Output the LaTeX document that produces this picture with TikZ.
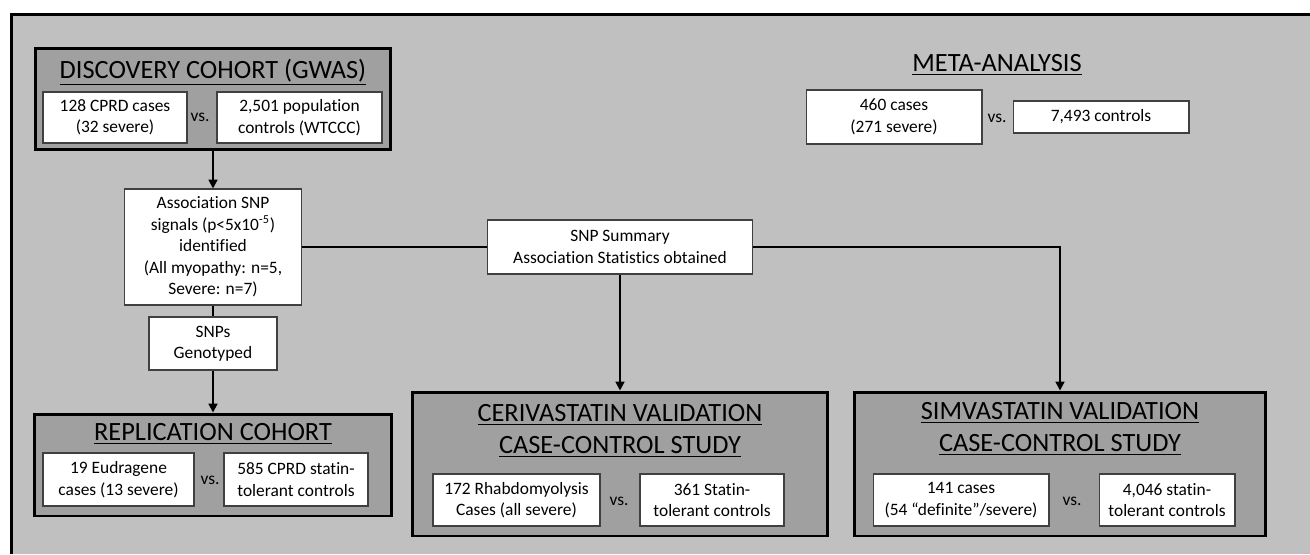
\documentclass[tikz,border=0pt]{standalone}
\usepackage{fontspec}
\setmainfont{Carlito}[Ligatures={TeX,NoCommon}]
\usetikzlibrary{arrows.meta}
\definecolor{bggray}{RGB}{192,192,192}
\definecolor{panelgray}{RGB}{160,160,160}
\begin{document}
\begin{tikzpicture}[x=0.02cm,y=-0.02cm,font=\fontsize{9.9}{12.2}\selectfont,
  panel/.style={draw,line width=1.7pt,fill=panelgray,inner sep=0pt},
  cell/.style={draw=black!75,line width=0.6pt,fill=white,align=center,inner sep=0pt},
  heading/.style={align=center,font=\fontsize{15}{18.3}\selectfont},
  link/.style={line width=1.1pt},
  flow/.style={link,-{Triangle[length=5pt,width=5pt]}}]
\useasboundingbox (0,0) rectangle (1310,554);
\fill[bggray] (11.5,14.5) rectangle (1310,554);
\draw[line width=1.7pt] (11.5,554) -- (11.5,14.5) -- (1310,14.5);
% discovery
\node[panel,minimum width=7.1cm,minimum height=2.04cm] (disc) at (213,99) {};
\node[heading] (discT) at (213,72) {\underline{DISCOVERY COHORT (GWAS)}};
\node[cell,minimum width=2.88cm,minimum height=1.02cm] (discA) at (115,117.5) {128 CPRD cases\\(32 severe)};
\node[cell,minimum width=3.3cm,minimum height=1.02cm] (discB) at (299.5,117.5) {2,501 population\\controls (WTCCC)};
% signals
\node[cell,minimum width=3.54cm,minimum height=2.32cm] (assoc) at (213,247) {Association SNP\\signals (p<5x10\textsuperscript{-5})\\identified\\(All myopathy: n=5,\\Severe: n=7)};
\node[cell,minimum width=2.56cm,minimum height=1.06cm] (geno) at (213,343.5) {SNPs\\Genotyped};
% replication
\node[panel,minimum width=7.14cm,minimum height=2.04cm] (repl) at (213,465) {};
\node[heading] (replT) at (213,434) {\underline{REPLICATION COHORT}};
\node[cell,minimum width=3.02cm,minimum height=1.06cm] (replA) at (118.5,479.5) {19 Eudragene\\cases (13 severe)};
\node[cell,minimum width=2.88cm,minimum height=1.06cm] (replB) at (296,479.5) {585 CPRD statin-\\tolerant controls};
% summary statistics
\node[cell,minimum width=5.3cm,minimum height=1.08cm] (summ) at (620,247) {SNP Summary\\Association Statistics obtained};
% cerivastatin
\node[panel,minimum width=8.32cm,minimum height=2.88cm] (ceri) at (620,464) {};
\node[heading] (ceriT) at (620,431) {\underline{CERIVASTATIN VALIDATION}\\\underline{CASE-CONTROL STUDY}};
\node[cell,minimum width=3.34cm,minimum height=1.04cm] (ceriA) at (516.5,500) {172 Rhabdomyolysis\\Cases (all severe)};
\node[cell,minimum width=2.88cm,minimum height=1.04cm] (ceriB) at (712,500) {361 Statin-\\tolerant controls};
% simvastatin
\node[panel,minimum width=8.22cm,minimum height=2.88cm] (simv) at (1060,464) {};
\node[heading] (simvT) at (1060,429) {\underline{SIMVASTATIN VALIDATION}\\\underline{CASE-CONTROL STUDY}};
\node[cell,minimum width=3.52cm,minimum height=1.04cm] (simvA) at (961,500) {141 cases\\(54 “definite”/severe)};
\node[cell,minimum width=2.72cm,minimum height=1.04cm] (simvB) at (1167,500) {4,046 statin-\\tolerant controls};
% meta-analysis
\node[heading] (metaT) at (997,65) {\underline{META-ANALYSIS}};
\node[cell,minimum width=3.52cm,minimum height=1.08cm] (metaA) at (894,117) {460 cases\\(271 severe)};
\node[cell,minimum width=3.52cm,minimum height=0.64cm] (metaB) at (1101,117) {7,493 controls};
\foreach \n/\x/\y in {disc/200/117,repl/210/480,ceri/619/501,simv/1072/501,meta/997/118}
  \node (vs\n) at (\x,\y) {vs.};
% connectors
\draw[flow] (disc) -- (assoc);
\draw[link] (assoc) -- (geno);
\draw[flow] (geno) -- (repl);
\draw[link] (assoc) -- (summ);
\draw[flow] (summ) -- (ceri);
\draw[flow] (summ) -| (simv);
\end{tikzpicture}
\end{document}
